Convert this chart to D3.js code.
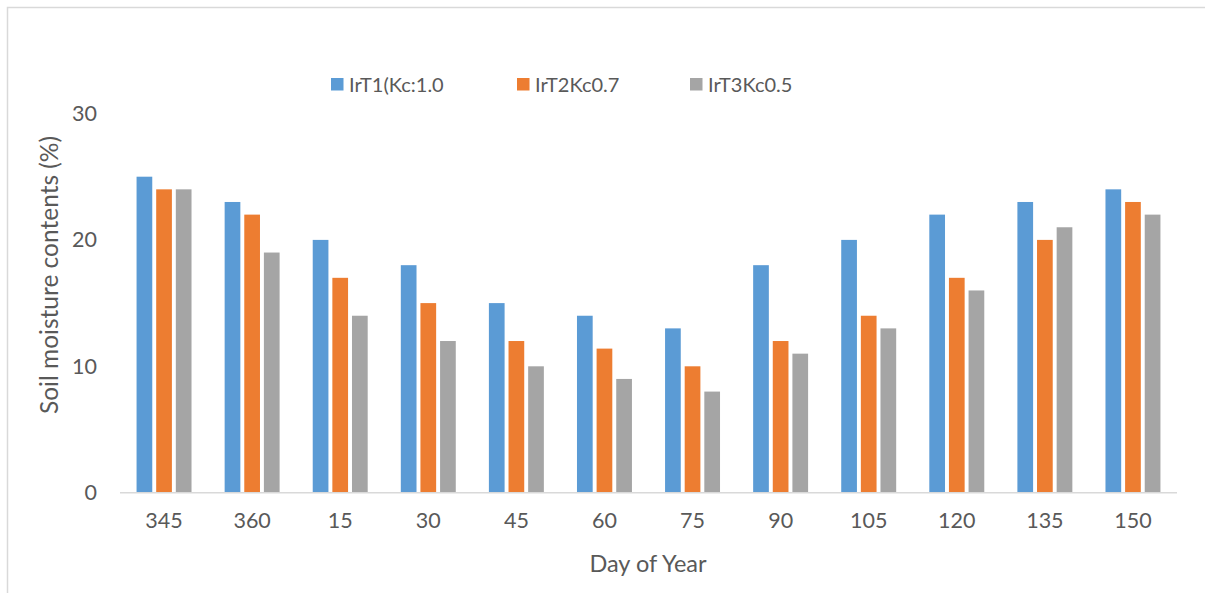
<!DOCTYPE html>
<html>
<head>
<meta charset="utf-8">
<script src="https://cdn.jsdelivr.net/npm/d3@7"></script>
<style>
  html, body { margin: 0; padding: 0; background: #fff; }
  svg { display: block; font-family: Lato, "Open Sans", sans-serif; }
</style>
</head>
<body>
<svg id="chart" width="1205" height="593"></svg>
<script>
const categories = ["345", "360", "15", "30", "45", "60", "75", "90", "105", "120", "135", "150"];
const seriesNames = ["IrT1(Kc:1.0", "IrT2Kc0.7", "IrT3Kc0.5"];
const irt1 = [25, 23, 20, 18, 15, 14, 13, 18, 20, 22, 23, 24];
const irt2 = [24, 22, 17, 15, 12, 11.4, 10, 12, 14, 17, 20, 23];
const irt3 = [24, 19, 14, 12, 10, 9, 8, 11, 13, 16, 21, 22];
const yTicks = [0, 10, 20, 30];
const colors = ["#5B9BD5", "#ED7D31", "#A5A5A5"];
const seriesValues = [irt1, irt2, irt3];

const svg = d3.select("#chart");
const W = 1205, H = 593;

// chart border
svg.append("rect").attr("x", 7.5).attr("y", 7.5).attr("width", W).attr("height", H)
  .attr("fill", "none").attr("stroke", "#D9D9D9").attr("stroke-width", 1.5);

const plot = { left: 120, right: 1177, top: 113.5, bottom: 492.7 };

const x0 = d3.scaleBand().domain(categories).range([plot.left, plot.right])
  .paddingInner(0.376).paddingOuter(0.188);
const x1 = d3.scaleBand().domain(seriesNames).range([0, x0.bandwidth()]).paddingInner(0.2);
const y = d3.scaleLinear().domain([0, 30]).range([plot.bottom, plot.top]);

// bars
const groups = svg.append("g").selectAll("g").data(categories).join("g")
  .attr("transform", d => `translate(${x0(d)},0)`);
groups.selectAll("rect")
  .data((c, i) => seriesNames.map((s, k) => ({ s, k, v: seriesValues[k][i] })))
  .join("rect")
  .attr("x", d => x1(d.s))
  .attr("width", x1.bandwidth())
  .attr("y", d => y(d.v))
  .attr("height", d => y(0) - y(d.v))
  .attr("fill", d => colors[d.k]);

// x axis line
svg.append("line").attr("x1", plot.left).attr("x2", plot.right)
  .attr("y1", y(0)).attr("y2", y(0))
  .attr("stroke", "#D9D9D9").attr("stroke-width", 1.5);

// y tick labels via axis
const yAxis = svg.append("g").attr("transform", `translate(${plot.left},0)`)
  .call(d3.axisLeft(y).tickValues(yTicks).tickFormat(d3.format("d")).tickSize(0).tickPadding(23));
yAxis.select(".domain").remove();
yAxis.selectAll("text").attr("fill", "#595959").style("font-size", "21.5px")
  .style("font-family", "Lato, 'Open Sans', sans-serif");

// x tick labels via axis
const xAxis = svg.append("g").attr("transform", `translate(0,${y(0)})`)
  .call(d3.axisBottom(x0).tickSize(0).tickPadding(20));
xAxis.select(".domain").remove();
xAxis.selectAll("text").attr("fill", "#595959").style("font-size", "21.5px")
  .style("font-family", "Lato, 'Open Sans', sans-serif");

// axis titles
svg.append("text").attr("x", 648).attr("y", 572).attr("text-anchor", "middle")
  .attr("fill", "#595959").style("font-size", "23.5px").text("Day of Year");
svg.append("text").attr("transform", "translate(58,275) rotate(-90)")
  .attr("text-anchor", "middle").attr("fill", "#595959").style("font-size", "24.5px")
  .text("Soil moisture contents (%)");

// legend
const legendX = [331, 517, 690];
const lg = svg.append("g").selectAll("g").data(seriesNames).join("g")
  .attr("transform", (d, i) => `translate(${legendX[i]},78)`);
lg.append("rect").attr("width", 12.5).attr("height", 12.5).attr("fill", (d, i) => colors[i]);
lg.append("text").attr("x", 18).attr("y", 13.5).attr("fill", "#595959")
  .style("font-size", "20px").text(d => d);
</script>
</body>
</html>
